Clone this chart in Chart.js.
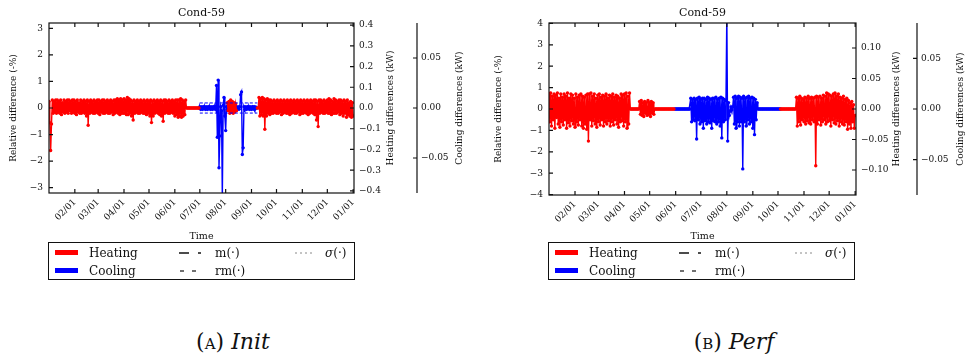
<!DOCTYPE html>
<html>
<head>
<meta charset="utf-8">
<script src="https://cdn.jsdelivr.net/npm/chart.js@4.4.1/dist/chart.umd.min.js"></script>
<style>
  body { margin: 0; background: #fff; width: 970px; height: 361px; position: relative; overflow: hidden; }
  canvas { position: absolute; top: 0; }
  .legend { position: absolute; top: 242px; width: 305px; height: 36px; border: 1.5px solid #111;
            font: 12px 'DejaVu Serif', serif; color: #111; }
  .legend span, .legend svg { position: absolute; }
  .legend .sw { width: 23px; height: 5px; left: 6px; }
  .legend .tx { line-height: 14px; white-space: nowrap; }
  .cap { position: absolute; top: 329px; font: 22px 'DejaVu Serif', serif; color: #111;
         transform: translateX(-50%); white-space: nowrap; }
</style>
</head>
<body>
<canvas id="chartA" width="485" height="245" style="left:0"></canvas>
<canvas id="chartB" width="485" height="245" style="left:485px"></canvas>

<div class="legend" style="left:48px">
  <span class="sw" style="top:7px;background:red"></span>
  <span class="sw" style="top:25px;background:blue"></span>
  <span class="tx" style="left:40px;top:3px">Heating</span>
  <span class="tx" style="left:40px;top:21px">Cooling</span>
  <svg style="left:130px;top:8px" width="26" height="4"><line x1="0" y1="2" x2="10" y2="2" stroke="#111" stroke-width="1.5"/><line x1="19" y1="2" x2="22" y2="2" stroke="#111" stroke-width="1.5"/></svg>
  <svg style="left:130px;top:26px" width="26" height="4"><line x1="1" y1="2" x2="5" y2="2" stroke="#111" stroke-width="1.2"/><line x1="13" y1="2" x2="17" y2="2" stroke="#111" stroke-width="1.2"/></svg>
  <span class="tx" style="left:166px;top:3px">m(·)</span>
  <span class="tx" style="left:166px;top:21px">rm(·)</span>
  <svg style="left:246px;top:8px" width="20" height="4"><line x1="0" y1="2" x2="19" y2="2" stroke="#888" stroke-width="1" stroke-dasharray="2,3"/></svg>
  <span class="tx" style="left:276px;top:3px"><i>σ</i>(·)</span>
</div>
<div class="legend" style="left:548px">
  <span class="sw" style="top:7px;background:red"></span>
  <span class="sw" style="top:25px;background:blue"></span>
  <span class="tx" style="left:40px;top:3px">Heating</span>
  <span class="tx" style="left:40px;top:21px">Cooling</span>
  <svg style="left:130px;top:8px" width="26" height="4"><line x1="0" y1="2" x2="10" y2="2" stroke="#111" stroke-width="1.5"/><line x1="19" y1="2" x2="22" y2="2" stroke="#111" stroke-width="1.5"/></svg>
  <svg style="left:130px;top:26px" width="26" height="4"><line x1="1" y1="2" x2="5" y2="2" stroke="#111" stroke-width="1.2"/><line x1="13" y1="2" x2="17" y2="2" stroke="#111" stroke-width="1.2"/></svg>
  <span class="tx" style="left:166px;top:3px">m(·)</span>
  <span class="tx" style="left:166px;top:21px">rm(·)</span>
  <svg style="left:246px;top:8px" width="20" height="4"><line x1="0" y1="2" x2="19" y2="2" stroke="#888" stroke-width="1" stroke-dasharray="2,3"/></svg>
  <span class="tx" style="left:276px;top:3px"><i>σ</i>(·)</span>
</div>

<div class="cap" style="left:233px">(<span style="font-variant:small-caps">a</span>) <i>Init</i></div>
<div class="cap" style="left:734px">(<span style="font-variant:small-caps">b</span>) <i>Perf</i></div>

<script>
// ===== DATA (one sample per day, day 0 = 01/01) =====
const _ = null;
const monthDays = [31, 59, 90, 120, 151, 181, 212, 243, 273, 304, 334, 365];
const monthLabels = ["02/01", "03/01", "04/01", "05/01", "06/01", "07/01", "08/01", "09/01", "10/01", "11/01", "12/01", "01/01"];

const leftTicksA = [-3, -2, -1, 0, 1, 2, 3];
const heatTicksA = [-0.4, -0.3, -0.2, -0.1, 0, 0.1, 0.2, 0.3, 0.4];
const leftTicksB = [-4, -3, -2, -1, 0, 1, 2, 3, 4];
const heatTicksB = [-0.1, -0.05, 0, 0.05, 0.1];
const coolTicks = [-0.05, 0, 0.05];

// (A) Init - relative difference (%)
const heatA = [
  0.25,-0.55,-1.6,-0.6,0.3,-0.2,0.25,-0.15,0.3,-0.2,
  0.3,-0.15,0.25,-0.2,0.3,-0.25,0.2,-0.15,0.3,-0.2,
  0.25,-0.15,0.3,-0.2,0.3,-0.1,0.25,-0.2,0.3,-0.15,
  0.3,-0.2,0.25,-0.25,0.3,-0.15,0.2,-0.2,0.3,-0.2,
  0.25,-0.15,0.3,-0.2,0.25,-0.3,0.3,-0.65,0.25,-0.2,
  0.3,-0.15,0.25,-0.2,0.3,-0.2,0.25,-0.15,0.3,-0.2,
  0.3,-0.25,0.25,-0.15,0.3,-0.2,0.3,-0.2,0.25,-0.15,
  0.3,-0.2,0.25,-0.2,0.3,-0.15,0.25,-0.25,0.3,-0.2,
  0.3,-0.15,0.35,-0.2,0.3,-0.25,0.35,-0.2,0.3,-0.2,
  0.35,-0.2,0.3,-0.25,0.4,-0.25,0.35,-0.2,0.3,-0.3,
  0.25,-0.45,0.3,-0.2,0.25,-0.15,0.3,-0.2,0.25,-0.2,
  0.3,-0.15,0.25,-0.2,0.3,-0.2,0.25,-0.25,0.3,-0.2,
  0.25,-0.3,0.3,-0.55,0.25,-0.3,0.3,-0.2,0.25,-0.15,
  0.3,-0.2,0.25,-0.25,0.3,-0.3,0.25,-0.5,0.3,-0.2,
  0.3,-0.15,0.25,-0.2,0.3,-0.2,0.25,-0.15,0.3,-0.2,
  0.25,-0.3,0.3,-0.25,0.3,-0.35,0.3,-0.3,0.35,-0.35,
  0.3,-0.3,0.25,-0.25,0.3,
  0,0,0,0,0,0,0,0,0,0,0,0,0,0,0,0,
  _,_,_,_,_,_,_,_,_,_,_,_,_,_,_,_,_,_,_,_,_,_,_,_,_,_,_,_,_,_,
  _,_,_,
  0.2,-0.1,0.25,-0.2,0.3,-0.15,0.25,-0.2,0.2,-0.15,0.15,-0.1,
  _,_,_,_,_,_,_,_,_,_,
  _,_,_,_,_,_,_,_,_,_,
  _,_,_,_,
  0,0,
  0.4,-0.3,0.35,-0.25,0.4,-0.3,0.35,-0.8,0.3,-0.3,
  0.35,-0.2,0.3,-0.25,0.3,-0.2,0.25,-0.2,0.3,-0.15,
  0.25,-0.2,0.3,-0.2,0.25,-0.15,0.3,-0.25,0.25,-0.2,
  0.3,-0.15,0.25,-0.2,0.3,-0.2,0.25,-0.25,0.3,-0.2,
  0.25,-0.15,0.3,-0.2,0.25,-0.2,0.3,-0.15,0.25,-0.25,
  0.3,-0.2,0.25,-0.2,0.3,-0.15,0.25,-0.2,0.3,-0.25,
  0.25,-0.2,0.3,-0.15,0.25,-0.2,0.3,-0.25,0.3,-0.45,
  0.25,-0.7,0.3,-0.2,0.3,-0.15,0.25,-0.2,0.3,-0.2,
  0.25,-0.15,0.3,-0.2,0.35,-0.2,0.3,-0.25,0.25,-0.2,
  0.35,-0.2,0.3,-0.2,0.25,-0.15,0.3,-0.25,0.3,-0.2,
  0.25,-0.3,0.3,-0.2,0.25,-0.35,0.3,-0.25,0.2,-0.3,
  0.25,-0.35,0.2,-0.3
];
const coolA = [
  _,_,_,_,_,_,_,_,_,_,_,_,_,_,_,_,_,_,_,_,_,_,_,_,_,_,_,_,_,_,
  _,_,_,_,_,_,_,_,_,_,_,_,_,_,_,_,_,_,_,_,_,_,_,_,_,_,_,_,_,_,
  _,_,_,_,_,_,_,_,_,_,_,_,_,_,_,_,_,_,_,_,_,_,_,_,_,_,_,_,_,_,
  _,_,_,_,_,_,_,_,_,_,_,_,_,_,_,_,_,_,_,_,_,_,_,_,_,_,_,_,_,_,
  _,_,_,_,_,_,_,_,_,_,_,_,_,_,_,_,_,_,_,_,_,_,_,_,_,_,_,_,_,_,
  _,_,_,_,_,_,_,_,_,_,_,_,_,_,_,_,_,_,_,_,_,_,_,_,_,_,_,_,_,_,
  0,0.05,-0.05,0.04,-0.05,0.05,-0.04,0.05,-0.05,0.04,
  -0.05,0.05,-0.04,0.05,-0.05,0.04,-0.05,0.05,-0.04,0.05,
  -0.05,0.85,-1.1,1.05,-2.25,-1.05,0.05,-0.1,-3.4,0.1,
  0.4,-0.3,-0.85,0.05,-0.05,0.04,-0.05,0.05,-0.04,0.05,
  -0.05,0.04,-0.05,0.05,-0.04,0.05,-0.05,0.04,-0.05,0.05,
  0.5,0.6,-1.75,-1.5,0.05,-0.05,0.04,-0.05,0.05,-0.04,
  0.05,-0.05,0.04,-0.05,0.05,-0.04,0.05,-0.05,0.04,0,
  _,_,_,_,_,_,_,_,_,_,_,_,_,_,_,_,_,_,_,_,_,_,_,_,_,_,_,_,_,_,
  _,_,_,_,_,_,_,_,_,_,_,_,_,_,_,_,_,_,_,_,_,_,_,_,_,_,_,_,_,_,
  _,_,_,_,_,_,_,_,_,_,_,_,_,_,_,_,_,_,_,_,_,_,_,_,_,_,_,_,_,_,
  _,_,_,_,_,_,_,_,_,_,
  _,_,_,_,_,_,_,_,_,_,
  _,_,_,_,_,_
];
const sigmaDaysA = [181, 250];
const sigmaCoolA = 0.19;

// (B) Perf - relative difference (%)
const heatB = [
  0.7,-0.6,0.75,-0.8,0.6,-0.5,0.7,-0.9,0.65,-0.4,
  0.75,-0.7,0.5,-0.85,0.7,-0.6,0.55,-0.75,0.7,-0.5,
  0.6,-0.9,0.75,-0.65,0.5,-0.8,0.7,-0.55,0.65,-0.7,
  0.5,-0.85,0.7,-0.6,0.55,-0.75,0.65,-0.5,0.7,-0.8,
  0.6,-0.9,0.55,-0.7,0.65,-0.95,0.7,-1.5,0.7,-0.5,
  0.75,-0.8,0.6,-0.55,0.7,-0.7,0.5,-0.85,0.65,-0.6,
  0.7,-0.75,0.55,-0.5,0.65,-0.8,0.6,-0.6,0.7,-0.7,
  0.5,-0.55,0.65,-0.8,0.6,-0.6,0.7,-0.75,0.55,-0.5,
  0.65,-0.7,0.6,-0.85,0.5,-0.6,0.7,-0.55,0.65,-0.8,
  0.7,-0.6,0.75,-0.9,0.6,-0.7,0.75,
  0,0,0,0,0,0,0,0,0,0,0,
  0.35,-0.25,0.4,-0.3,0.3,-0.35,0.35,-0.2,0.3,-0.3,
  0.4,-0.25,0.3,-0.35,0.35,-0.2,0.3,-0.25,
  0,0,0,0,0,0,0,0,0,0,0,0,0,0,0,0,0,0,0,0,0,0,0,0,
  _,_,_,_,_,_,_,_,_,_,_,_,_,_,_,_,_,_,_,_,_,_,_,_,_,_,_,_,_,_,
  _,_,_,_,_,_,_,_,_,_,_,_,_,_,_,_,_,_,_,_,_,_,_,_,_,_,_,_,_,_,
  _,_,_,_,_,_,_,_,_,_,_,_,_,_,_,_,_,_,_,_,_,_,_,_,_,_,_,_,_,_,
  _,_,_,_,_,_,_,_,_,_,_,_,_,_,_,_,_,_,_,_,_,_,_,_,_,_,_,_,_,_,
  _,_,_,_,_,_,
  0,0,0,0,0,0,0,0,0,0,0,0,0,0,0,0,0,0,0,
  0.55,-0.8,0.5,-0.6,0.6,-0.75,0.5,-0.5,0.45,-0.6,
  0.55,-0.7,0.5,-0.55,0.6,-0.65,0.5,-0.7,0.55,-0.5,
  0.5,-0.6,0.55,-2.65,0.6,-0.7,0.55,-0.5,0.6,-0.75,
  0.5,-0.6,0.65,-0.5,0.6,-0.7,0.75,-0.6,0.7,-0.55,
  0.65,-0.8,0.6,-0.5,0.7,-0.65,0.75,-0.7,0.6,-0.55,
  0.7,-0.8,0.55,-0.6,0.5,-0.7,0.6,-0.75,0.45,-0.6,
  0.5,-0.95,0.4,-0.7,0.3,-0.9,0.35,-0.6,0.2,-0.9,
  -0.3
];
const coolB = [
  _,_,_,_,_,_,_,_,_,_,_,_,_,_,_,_,_,_,_,_,_,_,_,_,_,_,_,_,_,_,
  _,_,_,_,_,_,_,_,_,_,_,_,_,_,_,_,_,_,_,_,_,_,_,_,_,_,_,_,_,_,
  _,_,_,_,_,_,_,_,_,_,_,_,_,_,_,_,_,_,_,_,_,_,_,_,_,_,_,_,_,_,
  _,_,_,_,_,_,_,_,_,_,_,_,_,_,_,_,_,_,_,_,_,_,_,_,_,_,_,_,_,_,
  _,_,_,_,_,_,_,_,_,_,_,_,_,_,_,_,_,_,_,_,_,_,_,_,_,_,_,_,_,_,
  0,0,0,0,0,0,0,0,0,0,0,0,0,0,0,0,0,0,0,
  0.5,-0.6,0.45,-0.5,0.5,-0.55,0.45,-1.4,0.5,-0.5,
  0.55,-0.7,0.45,-0.6,0.5,-0.9,0.5,-0.55,0.45,-0.7,
  0.55,-0.6,0.5,-0.65,0.45,-0.9,0.5,-0.55,0.5,-0.6,
  0.55,-0.7,0.45,-0.6,0.5,-0.8,0.55,-1.35,0.5,-0.6,
  0.45,-0.5,0.4,4.5,-1.5,0.3,-0.3,
  -0.1,0.1,-0.05,0.1,
  0.55,-0.7,0.6,-0.9,0.5,-0.6,0.6,-0.8,0.55,-0.6,
  0.5,-2.8,0.6,-0.6,0.5,-0.8,0.55,-0.5,0.6,-0.7,
  0.5,-0.6,0.55,-0.9,0.5,-1.2,0.45,-0.5,0.3,
  0,0,0,0,0,0,0,0,0,0,0,0,0,0,0,0,0,0,0,0,0,0,0,0,0,0,0,0,
  _,_,_,_,_,_,_,_,_,_,_,_,_,_,_,_,_,_,_,_,_,_,_,_,_,_,_,_,_,_,
  _,_,_,_,_,_,_,_,_,_,_,_,_,_,_,_,_,_,_,_,_,_,_,_,_,_,_,_,_,_,
  _,_,_,_,_,_,_,_,_,_,
  _,_,_,_,_,_,_,_,_,_,
  _,_,_,_,_,_,_,_,_
];

// ===== HELPERS =====
Chart.defaults.font.family = "'DejaVu Serif', serif";
Chart.defaults.font.size = 9;
Chart.defaults.color = "#111";

const fmt = d => v => (v < 0 ? "\u2212" : "") + Math.abs(v).toFixed(d);
const pts = vals => vals.map((v, day) => ({ x: day, y: v }));

const framePlugin = {
  id: "frame",
  afterDraw(chart, args, o) {
    const { ctx, chartArea: a, scales } = chart;
    ctx.save();
    ctx.strokeStyle = "#111";
    ctx.lineWidth = 1.2;
    ctx.strokeRect(a.left, a.top, a.right - a.left, a.bottom - a.top);
    ctx.beginPath();
    scales.x.ticks.forEach(t => {
      const x = scales.x.getPixelForValue(t.value);
      ctx.moveTo(x, a.bottom); ctx.lineTo(x, a.bottom - 4);
      ctx.moveTo(x, a.top); ctx.lineTo(x, a.top + 4);
    });
    scales.y.ticks.forEach(t => {
      const y = scales.y.getPixelForValue(t.value);
      ctx.moveTo(a.left, y); ctx.lineTo(a.left + 4, y);
    });
    scales.yh.ticks.forEach(t => {
      const y = scales.yh.getPixelForValue(t.value);
      ctx.moveTo(a.right, y); ctx.lineTo(a.right - 4, y);
    });
    const yc = scales.yc;
    ctx.moveTo(yc.left, a.top); ctx.lineTo(yc.left, a.bottom);
    yc.ticks.forEach(t => {
      const y = yc.getPixelForValue(t.value);
      ctx.moveTo(yc.left, y); ctx.lineTo(yc.left - 4, y);
    });
    ctx.stroke();

    ctx.fillStyle = "#111";
    ctx.textAlign = "center";
    ctx.textBaseline = "middle";
    ctx.font = "9px 'DejaVu Serif'";
    const cy = (a.top + a.bottom) / 2;
    [[scales.yh, o.heatTitle, o.heatOff], [yc, o.coolTitle, o.coolOff]].forEach(([s, text, off]) => {
      ctx.save();
      ctx.translate(s.left + off, cy);
      ctx.rotate(-Math.PI / 2);
      ctx.fillText(text, 0, 0);
      ctx.restore();
    });
    ctx.font = "11px 'DejaVu Serif'";
    ctx.fillText(o.title, (a.left + a.right) / 2, 13);
    ctx.restore();
  }
};

function panel(id, p) {
  const series = (label, vals, color) => ({
    label, data: pts(vals),
    borderColor: color, backgroundColor: color,
    borderWidth: 1.4, pointRadius: 1.7, pointBorderWidth: 0,
    pointHoverRadius: 0, tension: 0, spanGaps: false, yAxisID: "y"
  });
  const datasets = [series("Heating", p.heat, "red"), series("Cooling", p.cool, "blue")];
  if (p.sigmaDays) {
    [p.sigma, -p.sigma].forEach(s => datasets.unshift({
      label: "sigma", data: p.sigmaDays.map(d => ({ x: d, y: s })),
      borderColor: "blue", borderWidth: 1, borderDash: [3, 2], pointRadius: 0, yAxisID: "y"
    }));
  }
  const noGrid = { display: false, drawTicks: false };
  new Chart(document.getElementById(id), {
    type: "line",
    data: { datasets },
    plugins: [framePlugin],
    options: {
      responsive: false,
      animation: false,
      events: [],
      layout: { padding: { top: 23, left: 0, right: 0, bottom: 0 } },
      plugins: {
        legend: { display: false },
        tooltip: { enabled: false },
        frame: { title: "Cond-59", heatTitle: "Heating differences (kW)", coolTitle: "Cooling differences (kW)",
                 heatOff: p.heatOff, coolOff: p.coolOff }
      },
      scales: {
        x: {
          type: "linear", position: "bottom", min: 0, max: 366,
          grid: noGrid, border: { display: false },
          afterBuildTicks: s => { s.ticks = monthDays.map(v => ({ value: v })); },
          afterFit: s => { s.height = p.xHeight; },
          ticks: { autoSkip: false, minRotation: 45, maxRotation: 45, padding: 4,
                   callback: (v, i) => monthLabels[i] },
          title: { display: true, text: "Time", font: { size: 9.5 }, padding: { top: 0, bottom: 2.3 } }
        },
        y: {
          position: "left", min: -p.leftMax, max: p.leftMax,
          grid: noGrid, border: { display: false },
          afterBuildTicks: s => { s.ticks = p.leftTicks.map(v => ({ value: v })); },
          afterFit: s => { s.width = p.leftW; },
          ticks: { padding: 6, callback: fmt(0) },
          title: { display: true, text: "Relative difference (-%)", padding: { top: 8, bottom: 0 } }
        },
        yh: {
          position: "right", weight: 0, min: -p.heatMax, max: p.heatMax,
          grid: noGrid, border: { display: false },
          afterBuildTicks: s => { s.ticks = p.heatTicks.map(v => ({ value: v })); },
          afterFit: s => { s.width = p.heatW; },
          ticks: { padding: 5, callback: fmt(p.heatDec) }
        },
        yc: {
          position: "right", weight: 1, min: -0.085, max: 0.085,
          grid: noGrid, border: { display: false },
          afterBuildTicks: s => { s.ticks = coolTicks.map(v => ({ value: v })); },
          afterFit: s => { s.width = p.coolW; },
          ticks: { padding: 4, callback: fmt(2) }
        }
      }
    }
  });
}

// ===== CHARTS =====
panel("chartA", {
  heat: heatA, cool: coolA, sigmaDays: sigmaDaysA, sigma: sigmaCoolA,
  leftMax: 3.2, leftTicks: leftTicksA, heatMax: 0.41, heatTicks: heatTicksA, heatDec: 1,
  leftW: 49, heatW: 63, coolW: 68, xHeight: 52, heatOff: 37, coolOff: 43
});
panel("chartB", {
  heat: heatB, cool: coolB,
  leftMax: 4.02, leftTicks: leftTicksB, heatMax: 0.141, heatTicks: heatTicksB, heatDec: 2,
  leftW: 64, heatW: 61, coolW: 53, xHeight: 50, heatOff: 41, coolOff: 44
});
</script>
</body>
</html>
